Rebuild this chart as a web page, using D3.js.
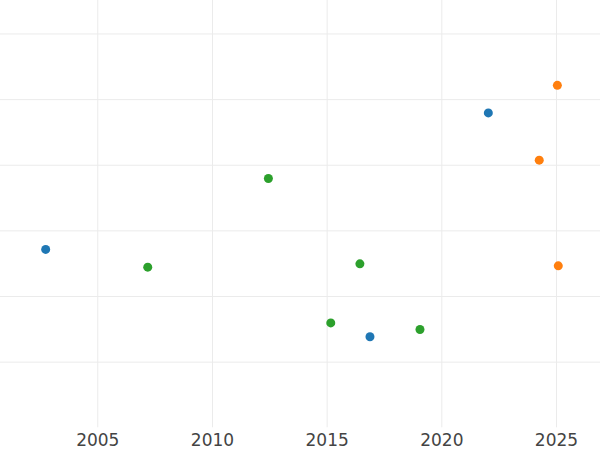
<!DOCTYPE html>
<html>
<head>
<meta charset="utf-8">
<script src="https://cdn.jsdelivr.net/npm/d3@7"></script>
<style>
  html, body { margin: 0; padding: 0; background: #fff; }
  svg { display: block; }
</style>
</head>
<body>
<svg id="chart" width="600" height="450"></svg>
<script>
// Data
const seriesNames = ["A", "B", "C"];
const seriesColors = ["#1f77b4", "#ff7f0e", "#2ca02c"];
const yearsA = [2002.75, 2022.05, 2016.89];
const valuesA = [2.71, 4.79, 1.38];
const yearsB = [2025.06, 2024.27, 2025.10];
const valuesB = [5.21, 4.07, 2.46];
const yearsC = [2012.46, 2007.20, 2016.45, 2015.18, 2019.07];
const valuesC = [3.79, 2.44, 2.49, 1.59, 1.49];
const xTicks = [2005, 2010, 2015, 2020, 2025];
const yTicks = [1, 2, 3, 4, 5, 6];

const series = [
  {name: seriesNames[0], color: seriesColors[0], xs: yearsA, ys: valuesA},
  {name: seriesNames[1], color: seriesColors[1], xs: yearsB, ys: valuesB},
  {name: seriesNames[2], color: seriesColors[2], xs: yearsC, ys: valuesC}
];

const W = 600, H = 450;
const plot = {left: 0, right: 600, top: 0, bottom: 427.3};

const x = d3.scaleLinear().domain([2000.758, 2026.919]).range([plot.left, plot.right]);
const y = d3.scaleLinear().domain([0, 6.51]).range([plot.bottom, plot.top]);

const svg = d3.select("#chart");

// Horizontal gridlines
svg.append("g")
  .attr("transform", `translate(${plot.left},0)`)
  .call(d3.axisLeft(y).tickValues(yTicks).tickSize(-(plot.right - plot.left)).tickFormat(""))
  .call(g => g.select(".domain").remove())
  .call(g => g.selectAll(".tick line").attr("stroke", "#ebebeb").attr("stroke-width", 1));

// Vertical gridlines
svg.append("g")
  .attr("transform", `translate(0,${plot.bottom})`)
  .call(d3.axisBottom(x).tickValues(xTicks).tickSize(-(plot.bottom - plot.top)).tickFormat(""))
  .call(g => g.select(".domain").remove())
  .call(g => g.selectAll(".tick line").attr("stroke", "#ebebeb").attr("stroke-width", 1));

// X tick labels
svg.append("g")
  .attr("transform", `translate(0,${plot.bottom})`)
  .call(d3.axisBottom(x).tickValues(xTicks).tickSize(0).tickPadding(7).tickFormat(d3.format("d")))
  .call(g => g.select(".domain").remove())
  .call(g => g.selectAll(".tick text")
    .attr("fill", "#444")
    .attr("font-family", "DejaVu Sans, sans-serif")
    .attr("font-size", 17));

// Points
series.forEach(s => {
  const pts = s.xs.map((xv, i) => ({x: xv, y: s.ys[i]}));
  svg.append("g")
    .selectAll("circle")
    .data(pts)
    .join("circle")
    .attr("cx", d => x(d.x))
    .attr("cy", d => y(d.y))
    .attr("r", 4.5)
    .attr("fill", s.color);
});
</script>
</body>
</html>
